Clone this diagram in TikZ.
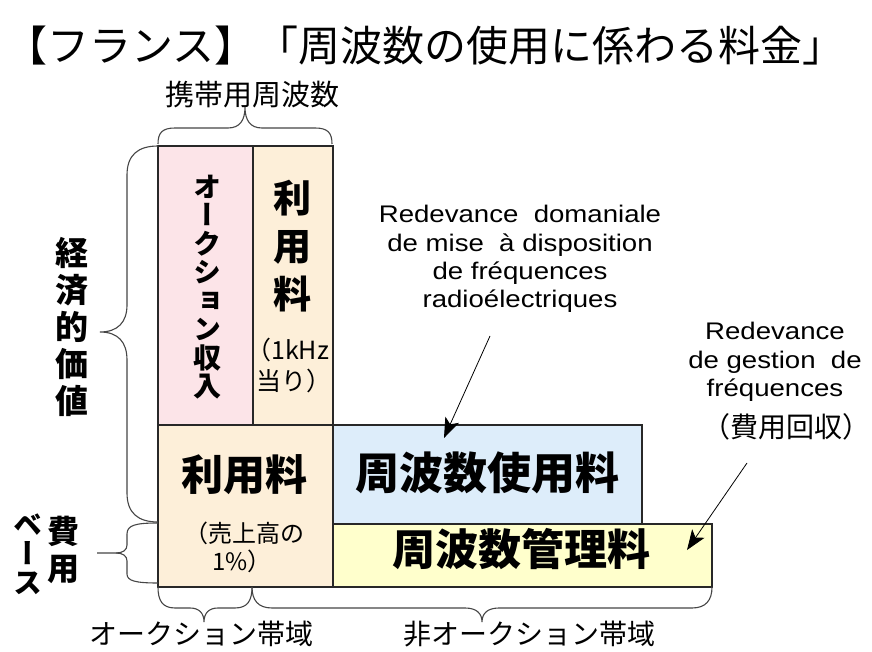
\documentclass[tikz,border=0pt]{standalone}
\usepackage{fontspec}
\setmainfont{Noto Sans CJK JP}
\newfontfamily\jpv[RawFeature=+vert]{Noto Sans CJK JP}
\newfontfamily\lat[FakeStretch=1.15]{Liberation Sans}
\usetikzlibrary{arrows.meta}
\definecolor{pinkfill}{RGB}{252,228,232}
\definecolor{beigefill}{RGB}{253,239,217}
\definecolor{bluefill}{RGB}{221,237,250}
\definecolor{yellowfill}{RGB}{255,255,204}
\definecolor{bordercol}{RGB}{40,40,40}
\definecolor{bracecol}{RGB}{70,70,70}
\begin{document}
\begin{tikzpicture}[x=1pt,y=-1pt,
  box/.style={draw=bordercol, line width=1.2pt, inner sep=0pt, outer sep=0pt},
  lbl/.style={inner sep=0pt, align=center},
  brc/.style={draw=bracecol, line width=1.1pt},
  arr/.style={-{Stealth[length=20pt,width=15pt,inset=5pt]}, line width=0.8pt, draw=black},
  ann/.style={inner sep=0pt, align=center, font=\lat\fontsize{24}{28.3}\selectfont}]
\useasboundingbox[fill=white] (0,0) rectangle (872,652);

% title
\node[lbl, anchor=west, font=\fontsize{42}{48}\selectfont] (title) at (5,46) {【フランス】「周波数の使用に係わる料金」};

% boxes
\node[box, fill=pinkfill, minimum width=95pt, minimum height=279pt] (pink) at (205.5,285.5) {};
\node[box, fill=beigefill, minimum width=80pt, minimum height=279pt] (beigetop) at (293,285.5) {};
\node[box, fill=beigefill, minimum width=175pt, minimum height=162pt] (beigebot) at (245.5,506) {};
\node[box, fill=bluefill, minimum width=309pt, minimum height=99pt] (blue) at (487.5,474.5) {};
\node[box, fill=yellowfill, minimum width=379pt, minimum height=63pt] (yellow) at (522.5,555.5) {};

% box texts
\node[lbl, font=\jpv\bfseries\fontsize{28}{28.5}\selectfont] (auction) at (207,287) {オ\\ー\\ク\\シ\\ョ\\ン\\収\\入};
\node[lbl, font=\bfseries\fontsize{38}{48}\selectfont] (riyo1) at (292,246) {利\\用\\料};
\node[lbl, anchor=west, font=\fontsize{25}{30}\selectfont] (khz) at (246,350) {（1kHz};
\node[lbl, anchor=west, font=\fontsize{25}{30}\selectfont] (atari) at (256,381) {当り）};
\node[lbl, font=\bfseries\fontsize{42}{48}\selectfont] (riyo2) at (244,475) {利用料};
\node[lbl, font=\fontsize{24}{30}\selectfont] (uri1) at (244,533) {（売上高の};
\node[lbl, font=\fontsize{24}{30}\selectfont] (uri2) at (242,561) {1\%）};
\node[lbl, font=\bfseries\fontsize{44}{50}\selectfont] (shiyo) at (487,473) {周波数使用料};
\node[lbl, font=\bfseries\fontsize{43}{50}\selectfont] (kanri) at (521,549) {周波数管理料};

% side labels
\node[lbl, font=\fontsize{29}{34}\selectfont] (keitai) at (252,95) {携帯用周波数};
\node[lbl, font=\bfseries\fontsize{33}{37}\selectfont] (keizai) at (72,327) {経\\済\\的\\価\\値};
\node[lbl, font=\bfseries\fontsize{32}{37}\selectfont] (hiyo) at (63,550) {費\\用};
\node[lbl, font=\jpv\bfseries\fontsize{29}{29}\selectfont] (base) at (28,554) {ベ\\ー\\ス};
\node[lbl, font=\fontsize{28}{32}\selectfont] (aband) at (201,634) {オークション帯域};
\node[lbl, font=\fontsize{28}{32}\selectfont] (naband) at (529,634) {非オークション帯域};

% annotations
\node[ann] (ann1) at (520,259) {Redevance\ \ domaniale\\de mise\ \ à disposition\\de fréquences\\radioélectriques};
\node[ann] (ann2) at (775,362) {Redevance\\de gestion\ \ de\\fréquences};
\node[lbl, font=\fontsize{28}{34}\selectfont] (cost) at (786,427) {（費用回収）};

% arrows
\coordinate (a1s) at (490,336);
\coordinate (a1e) at (444,438);
\coordinate (a2s) at (747,463);
\coordinate (a2e) at (687,550);
\draw[arr] (a1s) -- (a1e);
\draw[arr] (a2s) -- (a2e);

% braces
\draw[brc] (158,144) .. controls (158,133) and (162,128) .. (175,128) -- (228,128)
  .. controls (240,128) and (245,120) .. (245,107)
  .. controls (245,120) and (250,128) .. (262,128) -- (315,128)
  .. controls (328,128) and (332,133) .. (332,144);
\draw[brc] (158,146) .. controls (138,146) and (127,155) .. (127,175) -- (127,305)
  .. controls (127,322) and (118,332) .. (100,332)
  .. controls (118,332) and (127,342) .. (127,360) -- (127,493)
  .. controls (127,513) and (138,522) .. (158,522);
\draw[brc] (158,523) .. controls (136,523) and (127,525) .. (127,534) -- (127,545)
  .. controls (127,550) and (123,553) .. (116,553) -- (97,553);
\draw[brc] (116,553) .. controls (123,553) and (127,556) .. (127,561) -- (127,574)
  .. controls (127,581) and (136,583) .. (158,583);
\draw[brc] (158,587) .. controls (158,600) and (162,608) .. (175,608) -- (190,608)
  .. controls (199,608) and (204,613) .. (204,622)
  .. controls (204,613) and (209,608) .. (218,608) -- (235,608)
  .. controls (248,608) and (252,600) .. (252,587);
\draw[brc] (252,587) .. controls (252,600) and (258,608) .. (272,608) -- (465,608)
  .. controls (476,608) and (482,613) .. (482,622)
  .. controls (482,613) and (488,608) .. (499,608) -- (692,608)
  .. controls (706,608) and (712,600) .. (712,587);
\end{tikzpicture}
\end{document}
